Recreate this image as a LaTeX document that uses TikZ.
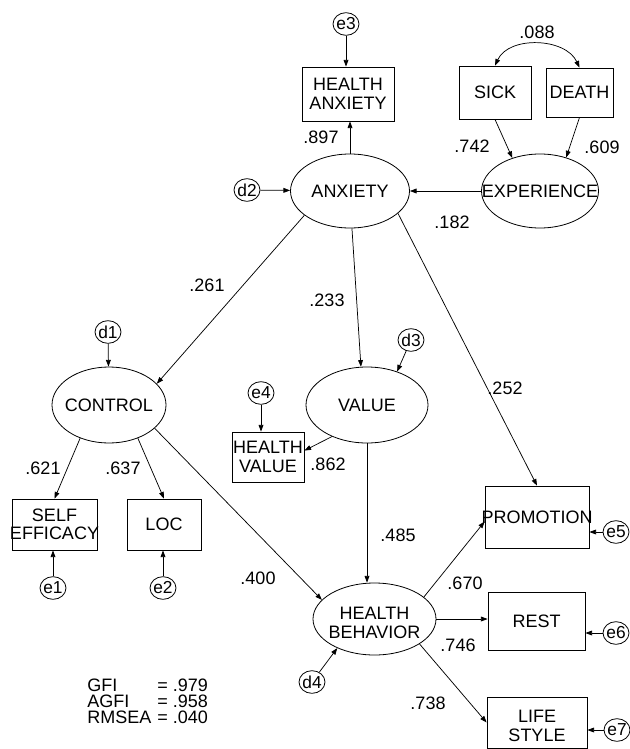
\documentclass[tikz,border=0pt]{standalone}
\usepackage{fontspec}
\setmainfont{Liberation Sans}
\usetikzlibrary{arrows.meta,shapes.geometric}
\begin{document}
\begin{tikzpicture}[x=0.75pt,y=-0.75pt,
  font=\fontsize{13.5pt}{13.9pt}\selectfont,
  >={Triangle[length=5pt,width=3.6pt]},
  lat/.style={draw,ellipse,inner sep=0pt,line width=0.6pt},
  obs/.style={draw,rectangle,inner sep=0pt,line width=0.6pt},
  err/.style={draw,ellipse,inner sep=0pt,minimum width=19.5pt,minimum height=17pt,line width=0.6pt},
  lbl/.style={align=center,inner sep=0pt,font=\fontsize{13.5pt}{13.9pt}\selectfont},
  elbl/.style={inner sep=0pt,font=\fontsize{13pt}{13pt}\selectfont},
  conn/.style={->,line width=0.55pt},
  coef/.style={inner sep=0pt}
]
\path[fill=white,use as bounding box] (0,0) rectangle (630,749);

% nodes
\node[err,label={[elbl]center:e3}] (e3) at (346,24) {};
\node[obs,minimum width=69pt,minimum height=40.5pt,label={[lbl]center:HEALTH\\ANXIETY}] (ha) at (348,94) {};
\node[obs,minimum width=54pt,minimum height=39.75pt,label={[lbl]center:SICK}] (sick) at (495,92.5) {};
\node[obs,minimum width=50.25pt,minimum height=36.75pt,label={[lbl]center:DEATH}] (death) at (579.5,92.5) {};
\node[err,label={[elbl]center:d2}] (d2) at (247,190) {};
\node[lat,minimum width=89.25pt,minimum height=55.5pt,label={[lbl]center:ANXIETY}] (anx) at (350,191) {};
\node[lat,minimum width=87.75pt,minimum height=55.5pt,label={[lbl]center:EXPERIENCE}] (exp) at (540,191) {};
\node[err,label={[elbl]center:d1}] (d1) at (108,332) {};
\node[lat,minimum width=85.5pt,minimum height=57pt,label={[lbl]center:CONTROL}] (ctrl) at (109,405) {};
\node[err,label={[elbl]center:d3}] (d3) at (411,340) {};
\node[lat,minimum width=91.5pt,minimum height=57pt,label={[lbl]center:VALUE}] (val) at (367,405) {};
\node[err,label={[elbl]center:e4}] (e4) at (261,393) {};
\node[obs,minimum width=54pt,minimum height=37.5pt,label={[lbl]center:HEALTH\\VALUE}] (hv) at (268,457) {};
\node[obs,minimum width=63.75pt,minimum height=38.25pt,label={[lbl]center:SELF\\EFFICACY}] (se) at (54.5,524.5) {};
\node[obs,minimum width=55.5pt,minimum height=38.25pt,label={[lbl]center:LOC}] (loc) at (164,524.5) {};
\node[err,label={[elbl]center:e1}] (e1) at (53,588) {};
\node[err,label={[elbl]center:e2}] (e2) at (163,588) {};
\node[obs,minimum width=78pt,minimum height=46.5pt,label={[lbl]center:PROMOTION}] (prom) at (537,517) {};
\node[err,label={[elbl]center:e5}] (e5) at (616,532) {};
\node[lat,minimum width=92.25pt,minimum height=54pt,label={[lbl,yshift=-3pt]center:HEALTH\\BEHAVIOR}] (hb) at (374.5,619) {};
\node[obs,minimum width=72.75pt,minimum height=43.5pt,label={[lbl]center:REST}] (rest) at (536.5,621) {};
\node[err,label={[elbl]center:e6}] (e6) at (616,633) {};
\node[err,label={[elbl]center:d4}] (d4) at (312,682) {};
\node[obs,minimum width=75pt,minimum height=38.25pt,label={[lbl,yshift=-2.5pt]center:LIFE\\STYLE}] (ls) at (537,722.5) {};
\node[err,label={[elbl]center:e7}] (e7) at (617,730) {};

% connectors
\draw[conn] (e3) -- (e3 |- ha.north);
\draw[conn] (anx.north) -- (anx.north |- ha.south);
\draw[conn] (sick.south) -- (exp.130);
\draw[conn] (death.south) -- (exp.52);
\draw[<->,line width=0.55pt] (sick.north) .. controls +(14,-30) and +(-14,-30) .. (death.north);
\draw[conn] (exp) -- (anx);
\draw[conn] (d2) -- (anx);
\draw[conn] (anx.208) -- (ctrl.24);
\draw[conn] (anx.273) -- (val.99);
\draw[conn] (anx.335) -- (prom.north);
\draw[conn] (d1) -- (ctrl);
\draw[conn] (d3) -- (val.48);
\draw[conn] (e4) -- (e4 |- hv.north);
\draw[conn] (val.222) -- (hv.10);
\draw[conn] (ctrl.229) -- (se.north);
\draw[conn] (ctrl.311) -- (loc.north);
\draw[conn] (e1) -- (e1 |- se.south);
\draw[conn] (e2) -- (e2 |- loc.south);
\draw[conn] (ctrl.333) -- (hb.160);
\draw[conn] (val.south) -- (val.south |- hb.north);
\draw[conn] (d4) -- (hb.218);
\draw[conn] (hb.24) -- (prom.185);
\draw[conn] (hb.east) -- (hb.east -| rest.west);
\draw[conn] (hb.331) -- (ls.west);
\draw[conn] (e5) -- (e5 -| prom.east);
\draw[conn] (e6) -- (e6 -| rest.east);
\draw[conn] (e7) -- (e7 -| ls.east);

% coefficients
\node[coef] (c897) at (321,137) {.897};
\node[coef] (c088) at (537,32) {.088};
\node[coef] (c742) at (472,146) {.742};
\node[coef] (c609) at (602,147) {.609};
\node[coef] (c182) at (452,222) {.182};
\node[coef] (c261) at (207,285) {.261};
\node[coef] (c233) at (327,300) {.233};
\node[coef] (c252) at (505,388) {.252};
\node[coef] (c621) at (43,468) {.621};
\node[coef] (c637) at (123,468) {.637};
\node[coef] (c862) at (328,464) {.862};
\node[coef] (c485) at (398,535) {.485};
\node[coef] (c670) at (465,583) {.670};
\node[coef] (c400) at (258,578) {.400};
\node[coef] (c746) at (458,645) {.746};
\node[coef] (c738) at (428,703) {.738};

% fit indices
\node[coef,anchor=north west,align=left,font=\fontsize{13.5pt}{11.8pt}\selectfont] (fit) at (87,679)
  {\makebox[52.5pt][l]{GFI}= .979\\\makebox[52.5pt][l]{AGFI}= .958\\\makebox[52.5pt][l]{RMSEA}= .040};
\end{tikzpicture}
\end{document}
